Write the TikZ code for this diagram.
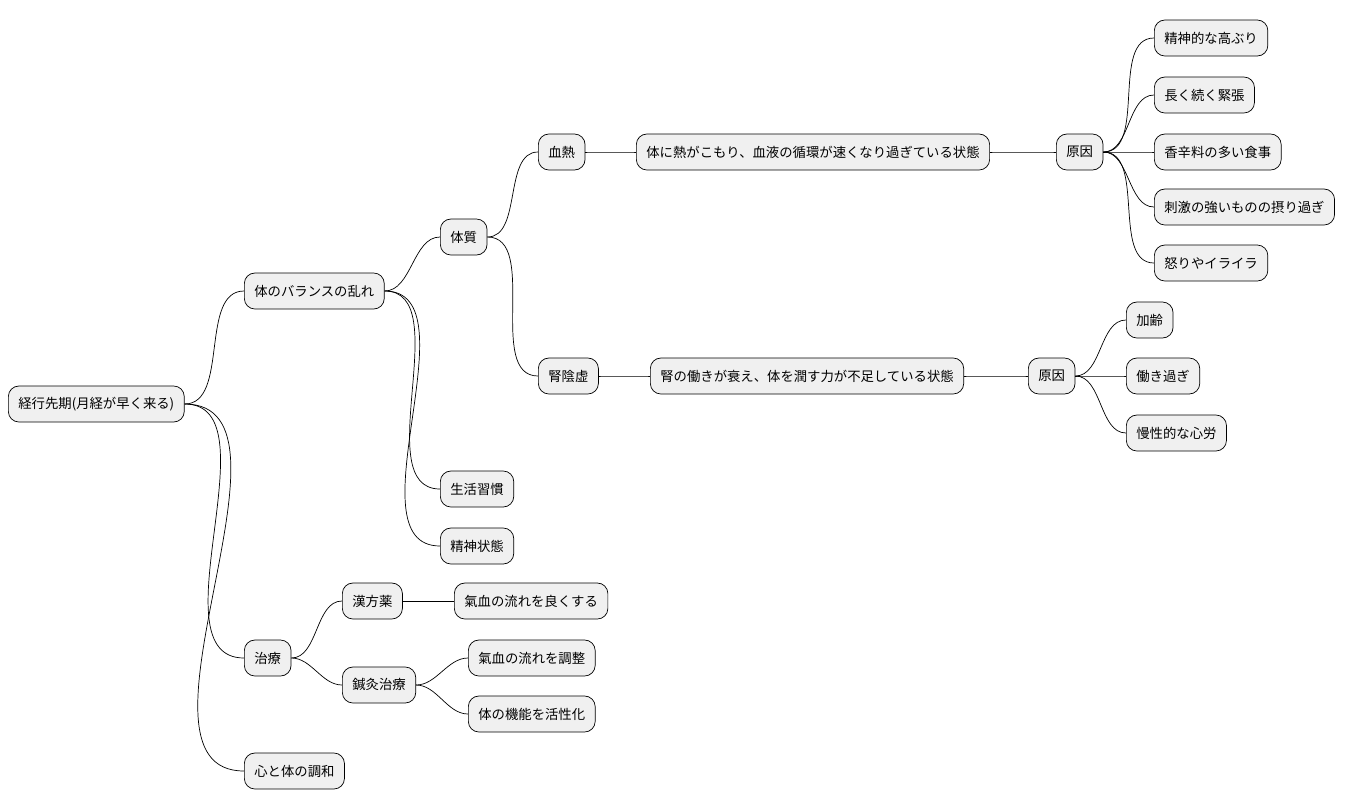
\documentclass[tikz,border=0pt]{standalone}
\usepackage{fontspec}
\setmainfont{Noto Sans CJK JP}
\usetikzlibrary{positioning}

\begin{document}
\begin{tikzpicture}[
    x=0.02cm, y=-0.02cm,
    topic/.style={draw, rounded corners=6pt, fill=gray!12, thin, anchor=west,
        minimum height=0.72cm, inner xsep=0.2cm, font=\fontsize{7.6pt}{9pt}\selectfont},
    branch/.style={out=0, in=180, looseness=0.9}
]
    \useasboundingbox (0,0) rectangle (1353,809);

    % Root and first level
    \node[topic] (root) at (8,404) {経行先期(月経が早く来る)};
    \node[topic] (balance) at (244,291) {体のバランスの乱れ};
    \node[topic] (treat) at (244,658) {治療};
    \node[topic] (harmony) at (244,771) {心と体の調和};

    % Balance branch
    \node[topic] (constit) at (440,237) {体質};
    \node[topic] (habit) at (440,489) {生活習慣};
    \node[topic] (mental) at (440,546) {精神状態};

    \node[topic] (heat) at (538,152) {血熱};
    \node[topic] (heatdesc) at (636,152) {体に熱がこもり、血液の循環が速くなり過ぎている状態};
    \node[topic] (heatcause) at (1056,152) {原因};
    \node[topic] (c1) at (1154,38) {精神的な高ぶり};
    \node[topic] (c2) at (1154,95) {長く続く緊張};
    \node[topic] (c3) at (1154,152) {香辛料の多い食事};
    \node[topic] (c4) at (1154,207) {刺激の強いものの摂り過ぎ};
    \node[topic] (c5) at (1154,263) {怒りやイライラ};

    \node[topic] (yin) at (538,376) {腎陰虚};
    \node[topic] (yindesc) at (650,376) {腎の働きが衰え、体を潤す力が不足している状態};
    \node[topic] (yincause) at (1028,376) {原因};
    \node[topic] (d1) at (1126,320) {加齢};
    \node[topic] (d2) at (1126,376) {働き過ぎ};
    \node[topic] (d3) at (1126,433) {慢性的な心労};

    % Treatment branch
    \node[topic] (herb) at (342,601) {漢方薬};
    \node[topic] (herbdesc) at (454,601) {氣血の流れを良くする};
    \node[topic] (acu) at (342,685) {鍼灸治療};
    \node[topic] (acu1) at (468,658) {氣血の流れを調整};
    \node[topic] (acu2) at (468,714) {体の機能を活性化};

    % Connectors
    \foreach \a/\b in {root/balance, root/treat, root/harmony,
        balance/constit, balance/habit, balance/mental,
        constit/heat, constit/yin, heat/heatdesc, heatdesc/heatcause,
        heatcause/c1, heatcause/c2, heatcause/c3, heatcause/c4, heatcause/c5,
        yin/yindesc, yindesc/yincause, yincause/d1, yincause/d2, yincause/d3,
        treat/herb, treat/acu, herb/herbdesc, acu/acu1, acu/acu2}
        \draw (\a.east) to[branch] (\b.west);
\end{tikzpicture}
\end{document}
